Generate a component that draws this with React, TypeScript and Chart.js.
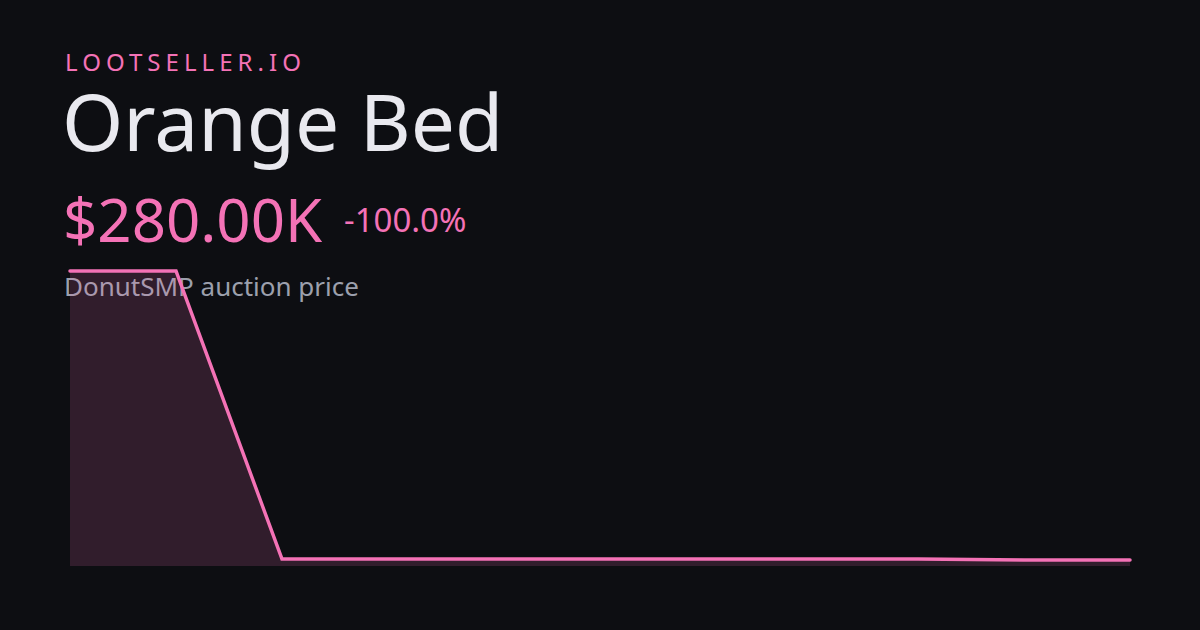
import { useEffect, useRef } from "react";
import { Chart, registerables } from "chart.js";

Chart.register(...registerables);

// price history, one point per sample
const days = ["1", "2", "3", "4", "5", "6", "7", "8", "9", "10", "11"];
const prices = [280000, 280000, 1000, 1000, 1000, 1000, 1000, 1000, 1000, 50, 50];

const PINK = "#f472b6";
const BG = "#0d0e12";

function PriceChart() {
  const canvasRef = useRef<HTMLCanvasElement>(null);

  useEffect(() => {
    const canvas = canvasRef.current;
    if (!canvas) return;

    const chart = new Chart(canvas, {
      type: "line",
      data: {
        labels: days,
        datasets: [
          {
            data: prices,
            borderColor: PINK,
            borderWidth: 3.5,
            borderCapStyle: "round",
            backgroundColor: "rgba(244, 114, 182, 0.16)",
            fill: "start",
            pointRadius: 0,
            tension: 0,
            clip: 6,
          },
        ],
      },
      options: {
        responsive: false,
        animation: false,
        layout: { padding: { left: 70, right: 70, top: 271, bottom: 64 } },
        plugins: { legend: { display: false }, tooltip: { enabled: false } },
        scales: {
          x: { display: false, offset: false },
          y: { display: false, min: -5800, max: 280000 },
        },
      },
    });

    return () => chart.destroy();
  }, []);

  return (
    <canvas
      ref={canvasRef}
      width={1200}
      height={630}
      style={{ position: "absolute", left: 0, top: 0, width: 1200, height: 630 }}
    />
  );
}

export default function App() {
  const font = "'Noto Sans', 'Open Sans', sans-serif";
  return (
    <div
      style={{
        position: "fixed",
        left: 0,
        top: 0,
        width: 1200,
        height: 630,
        background: BG,
        fontFamily: font,
        overflow: "hidden",
      }}
    >
      <div style={{ position: "absolute", left: 65, top: 46, fontSize: 24, letterSpacing: "0.21em", color: PINK, lineHeight: 1.36, whiteSpace: "nowrap" }}>
        LOOTSELLER.IO
      </div>
      <div style={{ position: "absolute", left: 62, top: 68, fontSize: 78.5, color: "#e9e9ef", lineHeight: 1.36, whiteSpace: "nowrap" }}>
        Orange Bed
      </div>
      <div style={{ position: "absolute", left: 63, top: 179, fontSize: 60, color: PINK, lineHeight: 1.36, whiteSpace: "nowrap" }}>
        $280.00K
      </div>
      <div style={{ position: "absolute", left: 344, top: 198, fontSize: 33, color: PINK, lineHeight: 1.36, whiteSpace: "nowrap" }}>
        -100.0%
      </div>
      <div style={{ position: "absolute", left: 64, top: 269, fontSize: 26, color: "#9ca0ad", lineHeight: 1.36, whiteSpace: "nowrap" }}>
        DonutSMP auction price
      </div>
      <PriceChart />
    </div>
  );
}
